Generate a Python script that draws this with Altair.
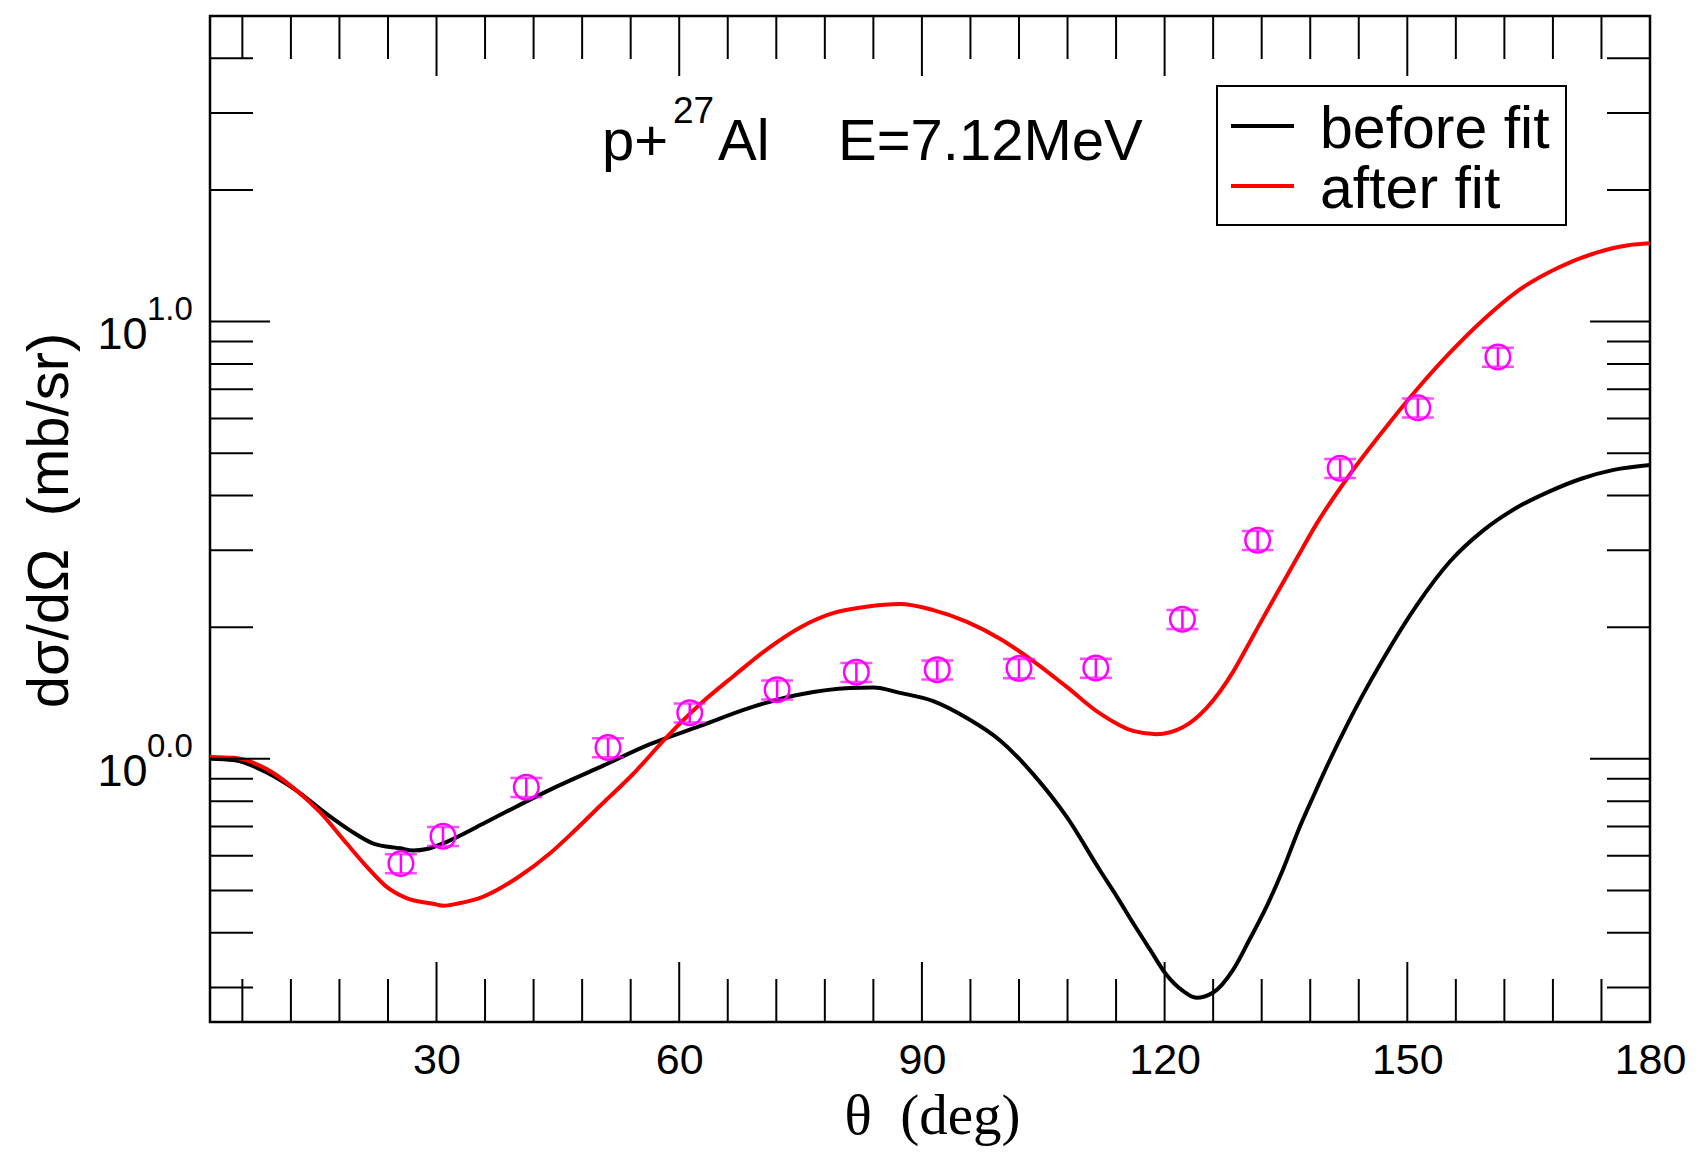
import altair as alt
import pandas as pd

# ---------------- data ----------------
theta_before = [2, 4.9, 9.0, 12.7, 16.4, 19.3, 22.2, 25.5, 27.1, 28.8, 31.2, 35.8, 39.9, 44.0,
                50.2, 56.4, 62.6, 68.7, 74.9, 81.1, 84.0, 87.3, 91.4, 95.5, 99.7, 103.8, 107.9,
                112.0, 114.1, 116.1, 118.2, 120.2, 122.3, 123.9, 126.0, 128.5, 130.5, 132.6,
                134.7, 136.5, 138.4, 140.3, 142.7, 144.5, 147.0, 151.2, 155.3, 159.4, 163.5,
                167.6, 171.5, 175.5, 180]
before_fit = [1.0, 0.993, 0.931, 0.846, 0.748, 0.686, 0.640, 0.624, 0.617, 0.622, 0.645, 0.711,
              0.778, 0.849, 0.957, 1.080, 1.189, 1.308, 1.403, 1.452, 1.456, 1.415, 1.355,
              1.241, 1.10, 0.92, 0.736, 0.556, 0.484, 0.421, 0.366, 0.321, 0.294, 0.284, 0.292,
              0.330, 0.386, 0.459, 0.562, 0.684, 0.822, 0.982, 1.21, 1.40, 1.69, 2.25, 2.83,
              3.33, 3.75, 4.09, 4.37, 4.58, 4.70]

theta_after = [2, 5.0, 9.0, 12.3, 15.6, 18.9, 21.4, 23.8, 26.3, 29.6, 30.9, 32.5, 35.8, 39.9,
               44.0, 46.9, 50.2, 54.3, 58.4, 62.6, 66.7, 70.8, 74.9, 79.0, 83.1, 87.3, 91.4,
               95.5, 99.7, 103.8, 107.9, 112.0, 116.1, 119.0, 122.3, 125.2, 128.5, 130.5,
               132.6, 134.7, 136.5, 138.8, 142.9, 147.0, 151.2, 155.3, 159.4, 163.5, 168.7,
               173.5, 177.3, 180]
after_fit = [1.01, 1.005, 0.947, 0.858, 0.755, 0.640, 0.566, 0.510, 0.480, 0.466, 0.461, 0.466,
             0.484, 0.533, 0.607, 0.680, 0.78, 0.923, 1.118, 1.334, 1.545, 1.778, 1.995, 2.153,
             2.227, 2.259, 2.188, 2.06, 1.88, 1.67, 1.46, 1.27, 1.158, 1.138, 1.182, 1.308,
             1.585, 1.845, 2.17, 2.54, 2.91, 3.45, 4.47, 5.62, 7.0, 8.5, 10.1, 11.7, 13.3,
             14.4, 14.95, 15.1]

exp_theta = [25.6, 30.8, 41.1, 51.2, 61.3, 72.1, 81.9, 91.9, 102.0, 111.5, 122.2, 131.5,
             141.7, 151.3, 161.2]
exp_sigma = [0.576, 0.665, 0.861, 1.061, 1.274, 1.439, 1.578, 1.599, 1.61, 1.613, 2.086, 3.16,
             4.62, 6.35, 8.3]
exp_err = [0.029, 0.033, 0.043, 0.053, 0.064, 0.072, 0.079, 0.080, 0.081, 0.081, 0.104, 0.158,
           0.231, 0.318, 0.415]

x_major = [30, 60, 90, 120, 150, 180]
x_minor = [6, 12, 18, 24, 36, 42, 48, 54, 66, 72, 78, 84, 96, 102, 108, 114, 126, 132, 138,
           144, 156, 162, 168, 174]
y_major = [1, 10]
y_exponents = ["0.0", "1.0"]
y_minor = [0.3, 0.4, 0.5, 0.6, 0.7, 0.8, 0.9, 2, 3, 4, 5, 6, 7, 8, 9, 20, 30, 40]

series_names = ["before fit", "after fit"]
series_colors = ["black", "red"]
annotation_main = ["p+", "Al", "E=7.12MeV"]
annotation_sup = "27"
x_title = "θ\u00a0\u00a0(deg)"
y_title = "dσ/dΩ\u00a0\u00a0(mb/sr)"

# ---------------- tables ----------------
curves = pd.concat([
    pd.DataFrame({"theta": theta_before, "value": before_fit, "series": series_names[0]}),
    pd.DataFrame({"theta": theta_after, "value": after_fit, "series": series_names[1]}),
])
exp = pd.DataFrame({"theta": exp_theta, "value": exp_sigma, "err": exp_err})
exp["lo"] = exp["value"] - exp["err"]
exp["hi"] = exp["value"] + exp["err"]

W, H = 1440, 1006
FONT = "Liberation Sans"
MAG = "#ff00ff"

xs = alt.Scale(domain=[2, 180], nice=False, zero=False)
ys = alt.Scale(type="log", domain=[0.25, 50], nice=False)

AX_X = alt.Axis(
    values=x_major, title=x_title, titleFont="Liberation Serif", titleFontSize=57,
    titleFontWeight="normal", titleColor="black", titleX=722, titleY=111,
    titleBaseline="alphabetic", titleAlign="center",
    labelFont=FONT, labelFontSize=43, labelColor="black", labelPadding=51,
    labelBaseline="alphabetic", labelFlush=False, labelOverlap=False,
    ticks=False, tickSize=0, domain=False, grid=False)
AX_Y = alt.Axis(
    values=y_major, labelExpr="'10'", title=y_title, titleFont=FONT, titleFontSize=58,
    titleFontWeight="normal", titleColor="black", titleAngle=270, titleX=-143, titleY=504,
    titleBaseline="alphabetic", titleAlign="center",
    labelFont=FONT, labelFontSize=45, labelColor="black", labelPadding=63,
    labelBaseline="alphabetic", labelOffset=27, labelFlush=False, labelOverlap=False,
    ticks=False, tickSize=0, domain=False, grid=False)


def X(field):
    return alt.X(field, scale=xs, axis=AX_X)


def Y(field):
    return alt.Y(field, scale=ys, axis=AX_Y)


# ---------------- ticks (inward, all four sides) ----------------
def x_ticks(vals, length, top):
    df = pd.DataFrame({"theta": vals})
    if top:
        yy, yy2 = alt.value(0), alt.value(length)
    else:
        yy, yy2 = alt.value(H), alt.value(H - length)
    return alt.Chart(df).mark_rule(color="black", strokeWidth=2).encode(
        x=X("theta:Q"), y=yy, y2=yy2)


def y_ticks(vals, length, right):
    df = pd.DataFrame({"value": vals})
    if right:
        xx, xx2 = alt.value(W), alt.value(W - length)
    else:
        xx, xx2 = alt.value(0), alt.value(length)
    return alt.Chart(df).mark_rule(color="black", strokeWidth=2).encode(
        y=Y("value:Q"), x=xx, x2=xx2)


MAJ, MIN = 60, 43
ticks = [x_ticks(x_major, MAJ, False), x_ticks(x_minor, MIN, False),
         x_ticks(x_major, MAJ, True), x_ticks(x_minor, MIN, True),
         y_ticks(y_major, MAJ, False), y_ticks(y_minor, MIN, False),
         y_ticks(y_major, MAJ, True), y_ticks(y_minor, MIN, True)]

# ---------------- curves ----------------
lines = alt.Chart(curves).mark_line(strokeWidth=4, clip=True, interpolate="monotone").encode(
    x=X("theta:Q"),
    y=Y("value:Q"),
    color=alt.Color("series:N", scale=alt.Scale(domain=series_names, range=series_colors),
                    legend=None),
    detail="series:N",
)

# superscript exponents of the y labels
ylab = pd.DataFrame({"value": y_major, "exp": y_exponents})
ysup = alt.Chart(ylab).mark_text(align="left", baseline="alphabetic", font=FONT, fontSize=33,
                                  color="black", dy=-2).encode(
    x=alt.value(-63), y=Y("value:Q"), text="exp:N")

# ---------------- experimental points ----------------
bars = alt.Chart(exp).mark_rule(color=MAG, strokeWidth=2.5).encode(
    x=X("theta:Q"), y=Y("lo:Q"), y2="hi:Q")
cap_lo = alt.Chart(exp).mark_tick(orient="horizontal", size=32, thickness=2.5, color=MAG).encode(
    x=X("theta:Q"), y=Y("lo:Q"))
cap_hi = alt.Chart(exp).mark_tick(orient="horizontal", size=32, thickness=2.5, color=MAG).encode(
    x=X("theta:Q"), y=Y("hi:Q"))
pts = alt.Chart(exp).mark_point(shape="circle", size=600, filled=False, strokeWidth=2.5,
                                color=MAG, opacity=1).encode(
    x=X("theta:Q"), y=Y("value:Q"))

# ---------------- legend (boxed) ----------------
one = pd.DataFrame({"k": [0]})
leg_box = alt.Chart(one).mark_rect(fill="white", stroke="black", strokeWidth=2).encode(
    x=alt.value(1007), x2=alt.value(1356), y=alt.value(70), y2=alt.value(209))
leg_items = []
for name, col, ly, ty in zip(series_names, series_colors, [110, 170], [132, 192]):
    leg_items.append(alt.Chart(one).mark_rule(color=col, strokeWidth=4).encode(
        x=alt.value(1021), x2=alt.value(1084), y=alt.value(ly)))
    leg_items.append(alt.Chart(one).mark_text(align="left", baseline="alphabetic", font=FONT,
                                              fontSize=59, color="black").encode(
        x=alt.value(1110), y=alt.value(ty), text=alt.value(name)))

# ---------------- annotation ----------------
ann = []
for txt, xx in zip(annotation_main, [392, 508, 628]):
    ann.append(alt.Chart(one).mark_text(align="left", baseline="alphabetic", font=FONT,
                                        fontSize=58, color="black").encode(
        x=alt.value(xx), y=alt.value(144), text=alt.value(txt)))
ann.append(alt.Chart(one).mark_text(align="left", baseline="alphabetic", font=FONT,
                                    fontSize=37, color="black").encode(
    x=alt.value(463), y=alt.value(107), text=alt.value(annotation_sup)))

chart = alt.layer(
    lines, *ticks, bars, cap_lo, cap_hi, pts, ysup, leg_box, *leg_items, *ann
).properties(
    width=W, height=H,
    autosize=alt.AutoSizeParams(type="none"),
    padding={"left": 210, "top": 16, "right": 51, "bottom": 130},
    background="white",
).configure(font=FONT).configure_view(stroke="black", strokeWidth=2.5)

chart.save("out.html", embed_options={"renderer": "svg", "actions": False})
